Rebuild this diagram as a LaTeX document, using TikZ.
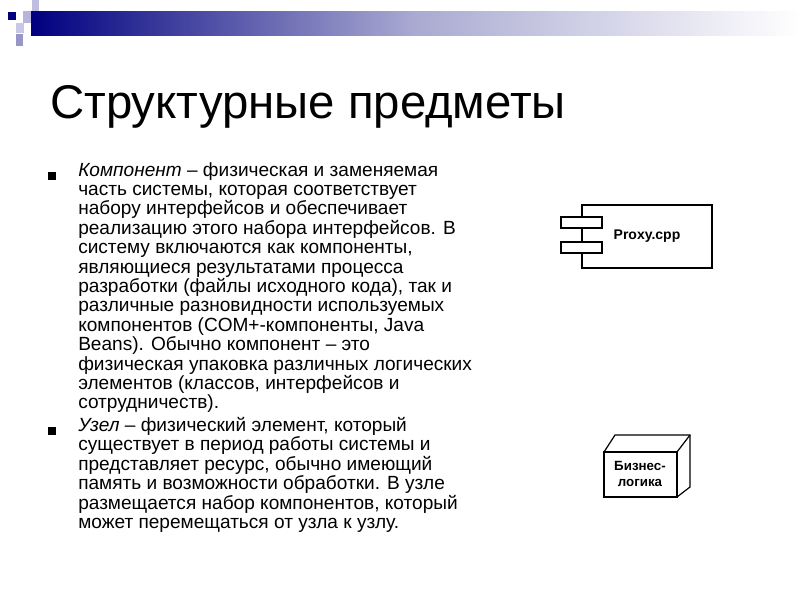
\documentclass[tikz,border=0pt]{standalone}
\usepackage{fontspec}
\setmainfont{Liberation Sans}
\definecolor{navy}{RGB}{0,0,128}
\definecolor{lp1}{RGB}{190,190,225}
\definecolor{lp2}{RGB}{180,180,220}
\definecolor{lp3}{RGB}{200,200,230}
\definecolor{lp4}{RGB}{150,150,200}
\definecolor{mid}{RGB}{170,170,210}
\begin{document}
\begin{tikzpicture}[x=0.75pt,y=-0.75pt,
  para/.style={anchor=north west,align=left,inner sep=0pt,font=\fontsize{14.3pt}{14.55pt}\selectfont},
  uml/.style={draw=black,line width=0.9pt,fill=white}]
\useasboundingbox (0,0) rectangle (800,600);
\fill[white] (0,0) rectangle (800,600);
% header bar
\shade[left color=navy,right color=white,middle color=mid] (31,11) rectangle (800,35);
\fill[lp1] (32,0) rectangle (39,11);
\fill[lp2] (23,11) rectangle (31,23);
\fill[navy] (8,12) rectangle (16,20);
\fill[lp3] (16,23) rectangle (24,33);
\fill[lp4] (16,34) rectangle (23,46);
% title
\node[anchor=base west,inner sep=0pt,font=\fontsize{35.5pt}{40pt}\selectfont] (title) at (50,118) {Структурные предметы};
% bullets
\fill[black] (48,172) rectangle (56,180);
\fill[black] (48,427) rectangle (56,435);
\node[para] (p1) at (78,162) {\textit{Компонент} – физическая и заменяемая\\часть системы, которая соответствует\\набору интерфейсов и обеспечивает\\реализацию этого набора интерфейсов. В\\систему включаются как компоненты,\\являющиеся результатами процесса\\разработки (файлы исходного кода), так и\\различные разновидности используемых\\компонентов (COM+-компоненты,\ Java\\Beans). Обычно компонент – это\\физическая упаковка различных логических\\элементов (классов, интерфейсов и\\сотрудничеств).};
\node[para] (p2) at (78,417) {\textit{Узел} – физический элемент, который\\существует в период работы системы и\\представляет ресурс, обычно имеющий\\память и возможности обработки. В узле\\размещается набор компонентов, который\\может перемещаться от узла к узлу.};
% component
\draw[uml] (582,205) rectangle (712,268);
\draw[uml] (561,217) rectangle (602,228);
\draw[uml] (561,242) rectangle (602,253);
\node[font=\fontsize{10.5pt}{12pt}\selectfont\bfseries] (comp) at (647,236) {Proxy.cpp};
% node
\draw[uml] (604,452) -- (615,435) -- (690,435) -- (690,487) -- (677,497);
\draw[uml] (677,452) -- (690,435);
\draw[uml] (604,452) rectangle (677,497);
\node[align=center,font=\fontsize{10pt}{12pt}\selectfont\bfseries] (nd) at (640,474) {Бизнес-\\логика};
\end{tikzpicture}
\end{document}
